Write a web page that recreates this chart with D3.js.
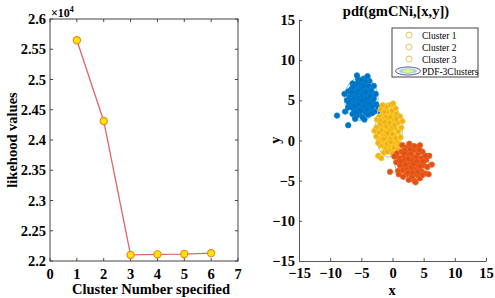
<!DOCTYPE html>
<html>
<head>
<meta charset="utf-8">
<script src="https://cdn.jsdelivr.net/npm/d3@7"></script>
<style>
  body { margin: 0; background: #fff; }
  svg text { font-family: "Liberation Serif", "Times New Roman", serif; font-weight: bold; fill: #000; }
</style>
</head>
<body>
<svg id="chart" width="495" height="298"></svg>
<script>
// ---- left plot: likelihood vs number of clusters
var clusterNums = [1, 2, 3, 4, 5, 6];
var likelihood = [25650, 24315, 22100, 22110, 22115, 22130];
var likeTicks = [22000, 22500, 23000, 23500, 24000, 24500, 25000, 25500, 26000];
var likeTickLabels = ["2.2", "2.25", "2.3", "2.35", "2.4", "2.45", "2.5", "2.55", "2.6"];
var numTicks = [0, 1, 2, 3, 4, 5, 6, 7];

// ---- right plot: samples of the three clusters
var cluster1 = [[-5.1,5.2],[-4.6,5.5],[-5.6,4.9],[-4.9,4.6],[-5.4,5.8],[-4.4,4.8],[-5.8,5.5],[-4.8,6.1],[-4.1,5.4],[-6.1,4.8],
  [-5.2,4.2],[-4.7,3.9],[-5.7,4.0],[-6.4,5.6],[-6.0,6.3],[-5.3,6.7],[-4.4,6.5],[-3.8,6.0],[-3.6,5.0],[-4.0,4.3],
  [-4.3,3.5],[-5.3,3.4],[-6.2,3.9],[-6.7,4.6],[-6.9,5.4],[-6.6,6.4],[-5.8,7.0],[-5.0,7.2],[-4.2,7.1],[-3.5,6.6],
  [-3.2,5.7],[-3.1,4.6],[-3.5,3.8],[-3.9,3.2],[-4.8,2.9],[-5.7,3.1],[-6.4,3.3],[-7.1,4.1],[-7.3,5.0],[-7.1,6.1],
  [-6.4,7.1],[-5.5,7.6],[-4.6,7.7],[-3.7,7.4],[-3.0,6.8],[-2.7,5.8],[-2.6,4.5],[-2.9,3.6],[-4.5,2.6],[-6.0,2.7],
  [-8.9,3.1],[-7.1,1.9],[-5.7,8.1],[-4.0,8.0],[-7.7,5.8],[-2.3,4.1],[-5.0,5.6],[-4.3,5.2],[-5.7,4.4],[-6.3,5.2],
  [-3.9,6.8],[-3.3,4.2],[-6.6,4.2],[-3.0,5.2],[-1.9,3.4],[-7.6,3.6],[-5.5,5.3],[-4.5,4.2],[-6.0,5.9],[-4.3,6.0],
  [-5.1,3.7],[-6.8,5.0],[-3.4,6.2],[-5.9,3.5],[-5.0,6.5],[-3.8,4.6],[-6.3,6.7],[-4.9,7.5],[-3.3,3.4],[-7.0,4.7],
  [-5.3,5.0],[-4.9,5.0],[-5.5,4.5],[-4.6,6.8],[-6.1,4.3],[-4.1,3.9],[-6.5,6.0],[-3.6,5.5],[-5.5,6.2],[-4.3,7.4]];
var cluster2 = [[-0.8,1.4],[-0.4,1.8],[-1.2,1.0],[-0.6,0.7],[-1.0,2.1],[-0.2,1.1],[-1.4,1.7],[-0.7,2.6],[-0.1,2.3],[-1.5,0.6],
  [-0.9,0.1],[-0.3,0.2],[-1.3,-0.2],[-1.8,1.3],[-1.7,2.4],[-1.1,3.0],[-0.3,3.1],[0.2,2.7],[0.4,1.6],[0.3,0.6],
  [0.1,-0.3],[-0.6,-0.6],[-1.5,-0.7],[-2.1,0.2],[-2.2,1.0],[-2.0,2.0],[-2.1,3.0],[-1.5,3.4],[-0.8,3.6],[-0.1,3.7],
  [0.6,3.3],[0.8,2.2],[0.9,1.1],[0.7,0.0],[0.4,-0.8],[-0.3,-1.2],[-1.1,-1.1],[-1.9,-0.6],[-2.6,0.5],[-2.6,1.6],
  [-2.5,2.6],[-1.9,3.9],[-1.0,4.2],[-0.3,4.4],[0.5,4.0],[1.2,3.0],[1.4,1.6],[1.3,0.4],[0.9,-1.0],[0.0,-1.6],
  [-1.4,-1.5],[-2.9,1.2],[1.6,2.4],[-1.6,4.4],[0.1,4.6],[-0.5,1.3],[-1.2,0.5],[-0.1,1.7],[-1.6,2.6],[0.5,0.3],
  [-2.3,-0.3],[1.1,-0.5],[-2.3,-1.9],[-1.8,-2.2],[-0.9,-0.4],[0.0,0.8],[-1.7,0.1],[-0.4,2.9],[-1.3,3.6],[0.6,2.7],
  [-2.0,2.5],[0.2,-0.9],[-0.8,-1.4],[-0.8,0.9],[-1.0,1.8],[-0.5,2.2],[-1.3,2.3],[-0.3,-0.2],[-1.4,0.2],[0.3,1.9]];
var cluster3 = [[3.1,-2.8],[3.6,-2.5],[2.6,-3.1],[3.3,-3.3],[2.8,-2.2],[3.9,-3.0],[2.2,-2.6],[3.2,-1.9],[4.2,-2.3],[2.0,-3.4],
  [2.9,-3.8],[3.8,-3.7],[2.4,-1.8],[4.5,-2.9],[1.6,-2.9],[1.8,-2.0],[2.5,-1.3],[3.4,-1.2],[4.1,-1.6],[4.7,-2.2],
  [5.0,-3.1],[4.6,-3.8],[4.0,-4.3],[3.1,-4.5],[2.2,-4.2],[1.6,-3.7],[1.2,-3.1],[1.1,-2.2],[1.5,-1.4],[2.2,-0.9],
  [3.0,-0.7],[3.9,-0.9],[4.8,-1.4],[5.4,-2.4],[5.6,-3.3],[5.2,-4.1],[4.4,-4.7],[3.5,-5.0],[2.6,-4.9],[1.7,-4.5],
  [0.9,-3.8],[0.6,-2.7],[0.7,-1.6],[1.6,-0.6],[2.7,-0.4],[4.4,-0.6],[5.9,-1.9],[6.3,-3.0],[5.8,-4.2],[-0.4,-3.9],
  [3.7,-5.2],[0.3,-2.0],[3.4,-2.3],[2.7,-2.7],[3.0,-3.4],[3.8,-2.1],[2.3,-3.6],[4.3,-3.5],[1.9,-2.4],[4.9,-2.6],
  [3.5,-4.1],[2.5,-4.0],[4.3,-1.2],[1.3,-2.6],[5.3,-1.9],[2.0,-1.2],[4.8,-4.3],[3.5,-0.7],[1.0,-4.2],[2.9,-1.6],
  [3.0,-2.5],[3.4,-2.9],[2.5,-2.3],[3.9,-2.6],[2.1,-3.0],[3.2,-4.0],[4.4,-3.2],[1.9,-1.6],[4.0,-3.9],[2.8,-1.1]];
// fitted gaussian components: mean and std dev (for the pdf contour)
var gmMu = [[-5.0, 5.2], [-0.6, 1.3], [3.1, -2.8]];
var gmSd = [[1.0, 1.0], [0.8, 1.25], [1.0, 0.85]];
var legendNames = ["Cluster 1", "Cluster 2", "Cluster 3", "PDF-3Clusters"];
var xyTicks = [-15, -10, -5, 0, 5, 10, 15];

var colors = ["#0072BD", "#EDB120", "#D95319"];

var svg = d3.select("#chart");

// ================= left plot =================
var lx = d3.scaleLinear().domain([0, 7]).range([50, 238]);
var ly = d3.scaleLinear().domain([22000, 26000]).range([261, 19]);

var left = svg.append("g");
left.append("rect").attr("x", 50).attr("y", 19).attr("width", 188).attr("height", 242)
  .attr("fill", "none").attr("stroke", "#444").attr("stroke-width", 1);

// inward ticks on all four sides
numTicks.forEach(function (t) {
  left.append("line").attr("x1", lx(t)).attr("x2", lx(t)).attr("y1", 261).attr("y2", 258).attr("stroke", "#444");
  left.append("line").attr("x1", lx(t)).attr("x2", lx(t)).attr("y1", 19).attr("y2", 22).attr("stroke", "#444");
  left.append("text").attr("x", lx(t)).attr("y", 279).attr("text-anchor", "middle")
    .style("font-size", "14.5px").text(t);
});
likeTicks.forEach(function (t, i) {
  left.append("line").attr("x1", 50).attr("x2", 53).attr("y1", ly(t)).attr("y2", ly(t)).attr("stroke", "#444");
  left.append("line").attr("x1", 238).attr("x2", 235).attr("y1", ly(t)).attr("y2", ly(t)).attr("stroke", "#444");
  left.append("text").attr("x", 46).attr("y", ly(t) + 5).attr("text-anchor", "end")
    .style("font-size", "14.5px").text(likeTickLabels[i]);
});

var exp = left.append("text").attr("x", 51).attr("y", 17).style("font-size", "12px");
exp.append("tspan").text("\u00d710");
exp.append("tspan").attr("dy", -5).style("font-size", "8px").text("4");

var pts = clusterNums.map(function (c, i) { return [c, likelihood[i]]; });
left.append("path")
  .attr("d", d3.line().x(function (d) { return lx(d[0]); }).y(function (d) { return ly(d[1]); })(pts))
  .attr("fill", "none").attr("stroke", "#E06666").attr("stroke-width", 1.3);
left.selectAll("circle.m").data(pts).enter().append("circle")
  .attr("cx", function (d) { return lx(d[0]); })
  .attr("cy", function (d) { return ly(d[1]); })
  .attr("r", 3.6)
  .attr("fill", "#FFE600").attr("stroke", "#E8891C").attr("stroke-width", 1.2);

left.append("text").attr("x", 151).attr("y", 294).attr("text-anchor", "middle")
  .style("font-size", "14.5px").text("Cluster Number specified");
left.append("text").attr("transform", "translate(17,140) rotate(-90)").attr("text-anchor", "middle")
  .style("font-size", "14.5px").text("likehood values");

// ================= right plot =================
var rx = d3.scaleLinear().domain([-15, 15]).range([299, 486]);
var ry = d3.scaleLinear().domain([-15, 15]).range([261, 20]);
var right = svg.append("g");

// pdf contours (faint)
var cont = right.append("g");
gmMu.forEach(function (m, i) {
  [2.7, 2.2].forEach(function (k, j) {
    cont.append("ellipse")
      .attr("cx", rx(m[0])).attr("cy", ry(m[1]))
      .attr("rx", rx(gmSd[i][0] * k) - rx(0)).attr("ry", ry(0) - ry(gmSd[i][1] * k))
      .attr("fill", "none").attr("stroke", j === 0 ? "#5FB7C9" : "#A8D86A").attr("stroke-width", 0.8);
  });
});

[cluster1, cluster2, cluster3].forEach(function (data, i) {
  right.append("g").selectAll("circle").data(data).enter().append("circle")
    .attr("cx", function (d) { return rx(d[0]); })
    .attr("cy", function (d) { return ry(d[1]); })
    .attr("r", 2.7)
    .attr("fill", colors[i]).attr("fill-opacity", 1)
    .attr("stroke", d3.color(colors[i]).brighter(0.4)).attr("stroke-width", 0.9);
});

var axCol = "#555";
var xAx = right.append("g").attr("transform", "translate(0,261)")
  .call(d3.axisBottom(rx).tickValues(xyTicks).tickSizeInner(-3).tickSizeOuter(0).tickPadding(5));
var yAx = right.append("g").attr("transform", "translate(299,0)")
  .call(d3.axisLeft(ry).tickValues(xyTicks).tickSizeInner(-3).tickSizeOuter(0).tickPadding(6));
[xAx, yAx].forEach(function (a) {
  a.select(".domain").attr("stroke", axCol);
  a.selectAll(".tick line").attr("stroke", axCol);
  a.selectAll(".tick text").style("font-size", "14.5px").style("font-family", "Liberation Serif, serif")
    .style("font-weight", "bold").attr("fill", "#000");
});
xAx.selectAll(".tick text").attr("dy", "0.8em");
yAx.selectAll(".tick text").attr("x", -4);

right.append("text").attr("x", 392).attr("y", 295).attr("text-anchor", "middle")
  .style("font-size", "14.5px").text("x");
right.append("text").attr("transform", "translate(280,140) rotate(-90)").attr("text-anchor", "middle")
  .style("font-size", "14.5px").text("y");
right.append("text").attr("x", 396).attr("y", 16).attr("text-anchor", "middle")
  .style("font-size", "14.5px").text("pdf(gmCNi,[x,y])");

// legend
var lg = right.append("g");
lg.append("rect").attr("x", 392).attr("y", 28).attr("width", 86).attr("height", 49)
  .attr("fill", "#fff").attr("stroke", "#444").attr("stroke-width", 1);
legendNames.forEach(function (name, i) {
  var yy = 35 + i * 12;
  if (i < 3) {
    lg.append("circle").attr("cx", 409).attr("cy", yy).attr("r", 3)
      .attr("fill", "none").attr("stroke", "#E3C26A").attr("stroke-width", 1);
  } else {
    lg.append("ellipse").attr("cx", 408).attr("cy", yy).attr("rx", 12.5).attr("ry", 4)
      .attr("fill", "#fff").attr("stroke", "#5A5AA8").attr("stroke-width", 1);
    lg.append("ellipse").attr("cx", 408).attr("cy", yy).attr("rx", 9).attr("ry", 2.8)
      .attr("fill", "#9FD3E8").attr("stroke", "none");
    lg.append("ellipse").attr("cx", 408).attr("cy", yy).attr("rx", 5.5).attr("ry", 1.7)
      .attr("fill", "#EAF56A").attr("stroke", "none");
  }
  lg.append("text").attr("x", 422).attr("y", yy + 3.5)
    .style("font-size", "9.5px").style("font-weight", "normal").text(name);
});
</script>
</body>
</html>
